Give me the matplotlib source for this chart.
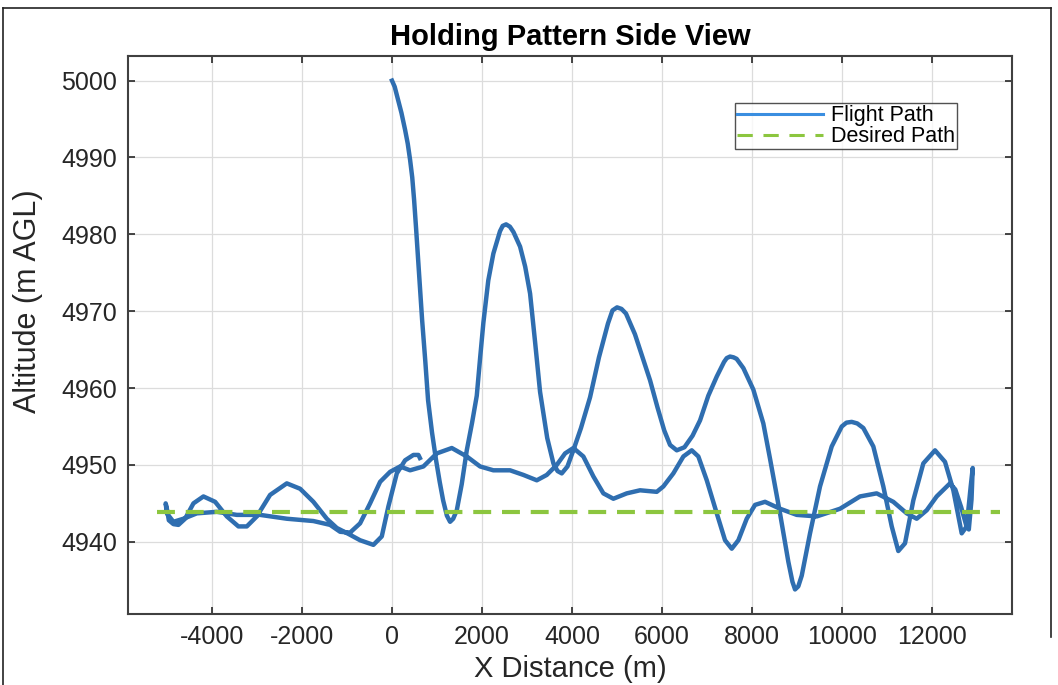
import matplotlib.pyplot as plt
from matplotlib.lines import Line2D

plt.rcParams['font.family'] = ['Liberation Sans', 'DejaVu Sans']
plt.rcParams['axes.unicode_minus'] = False

# outbound leg: start at 5000 m, big decaying climbs and dips
out_x = [0, 60, 136, 210, 291, 350, 402, 450, 491, 535, 580, 625, 669, 740, 802, 890, 980,
         1060, 1136, 1220, 1291, 1360, 1440, 1550, 1662, 1780, 1884, 1960, 2031, 2140,
         2253, 2400, 2460, 2536, 2620, 2700, 2847, 2960, 3069, 3180, 3291, 3450, 3587,
         3680, 3773, 3900, 4030, 4200, 4402, 4600, 4800, 4900, 5002, 5100, 5200, 5400,
         5580, 5736, 5900, 6050, 6180, 6329, 6500, 6680, 6847, 7030, 7218, 7380, 7440,
         7513, 7590, 7660, 7809, 8031, 8253, 8402, 8624, 8809, 8900, 8958, 9030, 9107,
         9291, 9513, 9773, 9996, 10100, 10217, 10340, 10476, 10698, 10920, 11107, 11253,
         11402, 11587, 11809, 12069, 12291, 12476, 12662, 12773, 12862, 12907]
out_y = [5000, 4999.2, 4997.5, 4995.8, 4993.6, 4991.8, 4989.7, 4987.4, 4984.5, 4980.8,
         4976.7, 4972.8, 4968.9, 4963.5, 4958.4, 4954.2, 4950.6, 4947.8, 4945.4, 4943.4,
         4942.6, 4943, 4944.1, 4947.5, 4951.9, 4955.5, 4959, 4964, 4968.5, 4974, 4977.5,
         4980.4, 4981.1, 4981.3, 4981.0, 4980.3, 4978.4, 4975.8, 4972.3, 4966, 4959.5,
         4953.5, 4950.2, 4949.2, 4948.9, 4949.8, 4951.9, 4954.8, 4958.8, 4964, 4968.4,
         4970.1, 4970.5, 4970.3, 4969.7, 4967, 4963.8, 4961, 4957.5, 4954.5, 4952.6,
         4951.9, 4952.3, 4953.8, 4955.8, 4959, 4961.5, 4963.4, 4963.9, 4964.1, 4964.0,
         4963.8, 4962.6, 4959.8, 4955.4, 4950.8, 4943.7, 4937.4, 4934.8, 4933.8, 4934.2,
         4935.6, 4941.1, 4947.2, 4952.4, 4955, 4955.5, 4955.6, 4955.4, 4954.8, 4952.4,
         4947.2, 4942, 4938.8, 4939.8, 4945.4, 4950.2, 4951.9, 4950.4, 4946.7, 4941.1,
         4942, 4947.2, 4949.6]

# return leg back to the west, small wobbles
ret_x = [12880, 12820, 12760, 12650, 12520, 12402, 12106, 11884, 11662, 11440, 11142,
         10773, 10402, 9958, 9440, 8996, 8624, 8291, 8069, 7884, 7698, 7551, 7402, 7218,
         6996, 6809, 6662, 6476, 6253, 6031, 5884, 5513, 5218, 4920, 4698, 4476, 4253, 4031,
         3847, 3662, 3440, 3218, 2920, 2624, 2253, 1958, 1662, 1329, 996, 698, 402, 180,
         -42, -264, -487, -709, -931, -1153, -1376, -1747, -2338, -2931, -3449, -3893,
         -4338, -4635, -4858, -5004, -5030]
ret_y = [4945.5, 4941.6, 4942.2, 4944.5, 4946.8, 4947.6, 4945.9, 4944.1, 4943, 4943.7,
         4945.2, 4946.3, 4945.9, 4944.3, 4943.3, 4943.5, 4944.3, 4945.2, 4944.8, 4943,
         4940.2, 4939.1, 4940.2, 4943.7, 4948, 4951.1, 4951.9, 4951.1, 4948.9, 4947.2,
         4946.5, 4946.7, 4946.3, 4945.6, 4946.3, 4948.5, 4951.1, 4952.2, 4951.5, 4950,
         4948.7, 4948, 4948.7, 4949.3, 4949.3, 4949.8, 4951.1, 4952.2, 4951.5, 4949.8,
         4949.3, 4949.8, 4949.1, 4947.8, 4945, 4942.4, 4941.2, 4941.3, 4942.2, 4942.7,
         4943, 4943.5, 4943.5, 4943.9, 4943.7, 4943, 4942.6, 4943.7, 4945]

# final leg east again, ends just past x = 0
fin_x = [-5000, -4960, -4858, -4747, -4598, -4413, -4191, -3931, -3671, -3413, -3227,
         -3005, -2709, -2338, -2042, -1747, -1449, -1227, -960, -709, -413, -227, -80,
         107, 291, 476, 587, 620]
fin_y = [4944.2, 4942.8, 4942.3, 4942.2, 4943, 4945, 4945.9, 4945.2, 4943.3, 4942,
         4942, 4943.3, 4946.1, 4947.6, 4946.9, 4945.2, 4943, 4941.8, 4941, 4940.2,
         4939.6, 4940.7, 4944.6, 4948.9, 4950.6, 4951.3, 4951.3, 4950.9]

desired_x = [-5230, 13520]
desired_y = [4943.9, 4943.9]

path_x = out_x + ret_x + fin_x
path_y = out_y + ret_y + fin_y

fig = plt.figure(figsize=(10.58, 6.85), dpi=100)
ax = fig.add_axes([0.1213, 0.1036, 0.8348, 0.8146])

ax.plot(path_x, path_y, color='#2f6eb0', linewidth=3.2, solid_joinstyle='round',
        label='Flight Path')
ax.plot(desired_x, desired_y, color='#8cc63f', linewidth=3, dashes=(4.3, 2.6),
        label='Desired Path')

ax.set_xlim(-5860, 13770)
ax.set_ylim(4930.6, 5003.2)
ax.set_xticks(range(-4000, 12001, 2000))
ax.set_yticks(range(4940, 5001, 10))
ax.grid(True, color='#dcdcdc', linewidth=0.9)
ax.set_axisbelow(True)
ax.tick_params(direction='in', length=5, width=1.2, top=True, right=True,
               labelsize=18, colors='#262626', pad=8)
for s in ax.spines.values():
    s.set_color('#404040')
    s.set_linewidth(1.5)

ax.set_title('Holding Pattern Side View', fontsize=21, fontweight='bold', pad=8)
ax.set_xlabel('X Distance (m)', fontsize=21, color='#262626', labelpad=4)
ax.set_ylabel('Altitude (m AGL)', fontsize=22, color='#262626')
ax.yaxis.set_label_coords(-0.097, 0.56)

h = [Line2D([], [], color='#3a8ee0', linewidth=2.2),
     Line2D([], [], color='#8cc63f', linewidth=2.2, dashes=(5, 3.5))]
leg = ax.legend(h, ['Flight Path', 'Desired Path'], loc='upper right',
                bbox_to_anchor=(0.938, 0.916), fontsize=15.5, frameon=True, fancybox=False,
                edgecolor='#262626', handlelength=4.0, borderpad=0.1, labelspacing=0.0,
                handletextpad=0.35, borderaxespad=0)
leg.get_frame().set_linewidth(1.0)

# screenshot frame
W, H = 1058, 685
fig.add_artist(Line2D([3 / W, 3 / W], [0, 1 - 8 / H], color='#222222', linewidth=1.2))
fig.add_artist(Line2D([3 / W, 1051 / W], [1 - 8 / H, 1 - 8 / H], color='#222222', linewidth=1.2))
fig.add_artist(Line2D([1051 / W, 1051 / W], [1 - 8 / H, 0.07], color='#222222', linewidth=1.2))

fig.savefig('out.png', dpi=100)
